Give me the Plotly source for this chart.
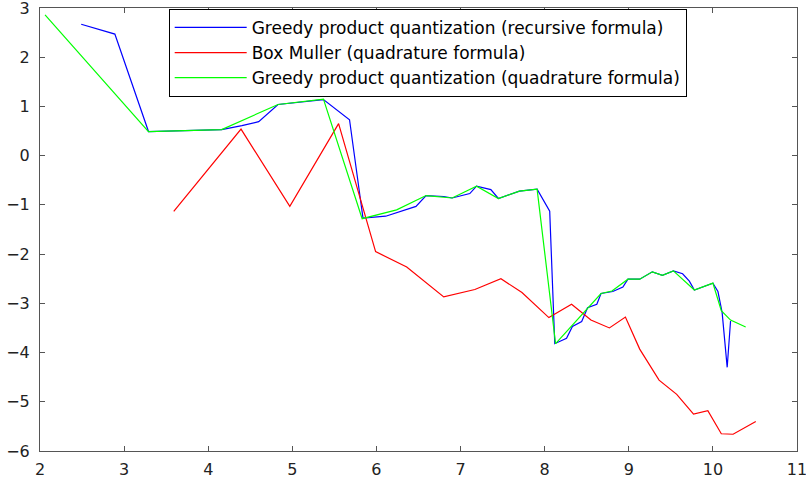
import plotly.graph_objects as go

blue_x = [2.49, 2.89, 3.29, 4.16, 4.40, 4.60, 4.83, 5.37, 5.68, 5.84, 6.11, 6.47, 6.59, 6.80, 6.90,
          7.11, 7.19, 7.36, 7.45, 7.70, 7.91, 8.06, 8.12, 8.26, 8.33, 8.44, 8.51, 8.62, 8.67, 8.81,
          8.93, 8.99, 9.13, 9.28, 9.40, 9.53, 9.64, 9.72, 9.78, 10.00, 10.06, 10.11, 10.17, 10.21]
blue_y = [2.67, 2.47, 0.49, 0.53, 0.61, 0.69, 1.04, 1.14, 0.73, -1.27, -1.23, -1.03, -0.81, -0.83, -0.86,
          -0.77, -0.62, -0.69, -0.87, -0.72, -0.68, -1.13, -3.82, -3.71, -3.47, -3.37, -3.09, -3.02, -2.80, -2.76,
          -2.67, -2.51, -2.51, -2.36, -2.43, -2.34, -2.40, -2.55, -2.73, -2.59, -2.76, -3.19, -4.30, -3.36]

red_x = [3.59, 4.39, 4.97, 5.55, 5.99, 6.36, 6.80, 7.17, 7.48, 7.73, 8.05, 8.32, 8.55, 8.77, 8.96,
         9.13, 9.36, 9.57, 9.77, 9.94, 10.10, 10.24, 10.51]
red_y = [-1.13, 0.54, -1.03, 0.65, -1.95, -2.26, -2.87, -2.72, -2.50, -2.78, -3.29, -3.02, -3.34, -3.50, -3.28,
         -3.93, -4.56, -4.85, -5.25, -5.18, -5.65, -5.66, -5.40]

green_x = [2.06, 3.29, 4.16, 4.83, 5.37, 5.83, 6.24, 6.59, 6.90, 7.19, 7.45, 7.70, 7.91, 8.13, 8.67,
           8.80, 8.99, 9.13, 9.28, 9.40, 9.53, 9.78, 10.00, 10.10, 10.21, 10.39]
green_y = [2.86, 0.49, 0.53, 1.04, 1.15, -1.28, -1.10, -0.81, -0.86, -0.62, -0.87, -0.72, -0.68, -3.82, -2.80,
           -2.75, -2.51, -2.51, -2.36, -2.43, -2.34, -2.73, -2.59, -3.15, -3.34, -3.48]

names = ["Greedy product quantization (recursive formula)",
         "Box Muller (quadrature formula)",
         "Greedy product quantization (quadrature formula)"]

x_ticks = [2, 3, 4, 5, 6, 7, 8, 9, 10, 11]
y_ticks = [-6, -5, -4, -3, -2, -1, 0, 1, 2, 3]

FONT = "DejaVu Sans, Verdana, sans-serif"

fig = go.Figure()
fig.add_trace(go.Scatter(x=blue_x, y=blue_y, mode="lines", name=names[0],
                         line=dict(color="#0000ff", width=1.2)))
fig.add_trace(go.Scatter(x=red_x, y=red_y, mode="lines", name=names[1],
                         line=dict(color="#ff0000", width=1.2)))
fig.add_trace(go.Scatter(x=green_x, y=green_y, mode="lines", name=names[2],
                         line=dict(color="#00ff00", width=1.2)))

axis_common = dict(showgrid=False, zeroline=False, showline=True, linecolor="#555555", linewidth=1,
                   mirror="ticks", ticks="inside", ticklen=5, tickcolor="#555555", automargin=False,
                   ticklabeloverflow="allow",
                   tickfont=dict(family=FONT, size=16, color="#222222"))

fig.update_layout(
    width=806, height=480,
    margin=dict(l=40, r=9, t=8, b=29),
    plot_bgcolor="white", paper_bgcolor="white",
    xaxis=dict(range=[2, 11], tickvals=x_ticks, ticklabelstandoff=4, **axis_common),
    yaxis=dict(range=[-6, 3], tickvals=y_ticks, ticklabelstandoff=6, **axis_common),
    legend=dict(x=0.170, y=0.998, xanchor="left", yanchor="top",
                bordercolor="#000000", borderwidth=1, bgcolor="white",
                font=dict(family=FONT, size=17, color="#000000"),
                itemwidth=72, tracegroupgap=0),
    showlegend=True,
)

fig.write_html("out.html",
               config={"displayModeBar": False},
               post_script="document.body.style.margin='0';document.body.style.overflow='hidden';")
